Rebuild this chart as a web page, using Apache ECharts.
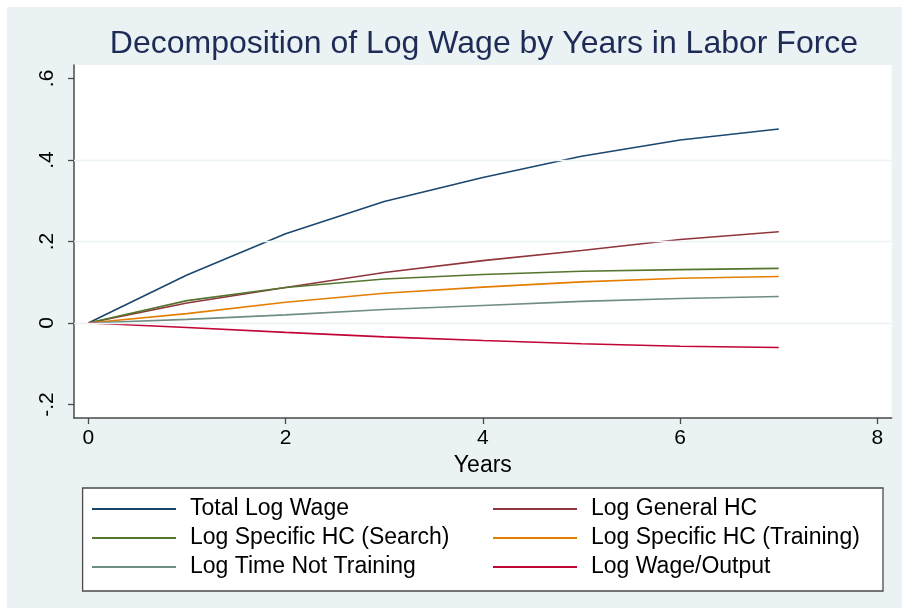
<!DOCTYPE html>
<html>
<head>
<meta charset="utf-8">
<script src="https://cdn.jsdelivr.net/npm/echarts@6/dist/echarts.min.js"></script>
<style>
  html, body { margin: 0; padding: 0; background: #ffffff; }
  #main { position: absolute; left: 7px; top: 7px; width: 895px; height: 601px; }
</style>
</head>
<body>
<div id="main"></div>
<script>
// data
var years = [0, 1, 2, 3, 4, 5, 6, 7];
var totalLogWage      = [0, 0.118, 0.219, 0.298, 0.357, 0.409, 0.449, 0.476];
var logGeneralHC      = [0, 0.049, 0.087, 0.124, 0.153, 0.178, 0.205, 0.224];
var logSpecSearch     = [0, 0.055, 0.087, 0.108, 0.119, 0.127, 0.131, 0.134];
var logSpecTraining   = [0, 0.023, 0.051, 0.073, 0.088, 0.101, 0.110, 0.114];
var logTimeNotTrain   = [0, 0.009, 0.020, 0.033, 0.043, 0.053, 0.060, 0.065];
var logWageOutput     = [0, -0.011, -0.023, -0.034, -0.043, -0.051, -0.057, -0.060];

var xTicks = [0, 2, 4, 6, 8];
var yTicks = [-0.2, 0, 0.2, 0.4, 0.6];
var yGrid = [0, 0.2, 0.4];

var seriesNames = [
  'Total Log Wage', 'Log General HC',
  'Log Specific HC (Search)', 'Log Specific HC (Training)',
  'Log Time Not Training', 'Log Wage/Output'
];
var seriesData = [totalLogWage, logGeneralHC, logSpecSearch, logSpecTraining, logTimeNotTrain, logWageOutput];
var colors = ['#1a476f', '#90353b', '#55752f', '#e37e00', '#6e8e84', '#c10534'];

function pairs(vals) {
  return vals.map(function (v, i) { return [years[i], v]; });
}
function fmtY(v) {
  var s = String(Math.round(v * 10) / 10);
  return s.replace('0.', '.');
}

var mychart = echarts.init(document.getElementById('main'));

var series = [{
  type: 'line',
  data: [],
  silent: true,
  z: 1,
  markLine: {
    silent: true,
    symbol: 'none',
    label: { show: false },
    lineStyle: { color: '#eaf2f3', width: 1.3, type: 'solid' },
    data: yGrid.map(function (v) { return { yAxis: v }; })
  }
}];
seriesNames.forEach(function (name, i) {
  series.push({
    name: name,
    type: 'line',
    data: pairs(seriesData[i]),
    symbol: 'none',
    z: 3,
    lineStyle: { color: colors[i], width: 1.6 },
    itemStyle: { color: colors[i] }
  });
});

var legendText = { fontFamily: 'Liberation Sans', fontSize: 23, color: '#000', lineHeight: 23, padding: [0, 0, 0, 9] };

var option = {
  backgroundColor: '#eaf2f3',
  animation: false,
  title: {
    text: 'Decomposition of Log Wage by Years in Labor Force',
    left: 472,
    top: 16,
    textAlign: 'center',
    textStyle: { fontFamily: 'Liberation Sans', fontSize: 32, fontWeight: 'normal', color: '#1e2b57' }
  },
  grid: {
    left: 67, top: 58, right: 10.3, bottom: 190,
    show: true, backgroundColor: '#ffffff', borderWidth: 0
  },
  xAxis: {
    type: 'value',
    min: -0.145, max: 8.145,
    name: 'Years',
    nameLocation: 'middle',
    nameGap: 27,
    nameTextStyle: { fontFamily: 'Liberation Sans', fontSize: 23, color: '#000' },
    axisLine: { show: true, onZero: false, lineStyle: { color: '#4a4a4a', width: 1.5 } },
    axisTick: { show: true, length: 6, customValues: xTicks, lineStyle: { color: '#4a4a4a', width: 1.3 } },
    axisLabel: { customValues: xTicks, margin: 10, fontFamily: 'Liberation Sans', fontSize: 21, color: '#000' },
    splitLine: { show: false }
  },
  yAxis: {
    type: 'value',
    min: -0.233, max: 0.633,
    axisLine: { show: true, onZero: false, lineStyle: { color: '#4a4a4a', width: 1.5 } },
    axisTick: { show: true, length: 6, customValues: yTicks, lineStyle: { color: '#4a4a4a', width: 1.3 } },
    axisLabel: {
      customValues: yTicks, rotate: 90, margin: 16,
      fontFamily: 'Liberation Sans', fontSize: 21, color: '#000',
      formatter: fmtY
    },
    splitLine: { show: false }
  },
  graphic: [{
    type: 'rect',
    silent: true,
    shape: { x: 75.6, y: 481, width: 800.4, height: 103 },
    style: { fill: '#ffffff', stroke: '#4a4a4a', lineWidth: 1.3 }
  }],
  legend: [{
    orient: 'vertical',
    left: 85, top: 490.5, padding: 0,
    icon: 'rect', itemWidth: 84, itemHeight: 2, itemGap: 6,
    textStyle: legendText,
    data: [seriesNames[0], seriesNames[2], seriesNames[4]]
  }, {
    orient: 'vertical',
    left: 486, top: 490.5, padding: 0,
    icon: 'rect', itemWidth: 84, itemHeight: 2, itemGap: 6,
    textStyle: legendText,
    data: [seriesNames[1], seriesNames[3], seriesNames[5]]
  }],
  series: series
};

mychart.setOption(option);
</script>
</body>
</html>
